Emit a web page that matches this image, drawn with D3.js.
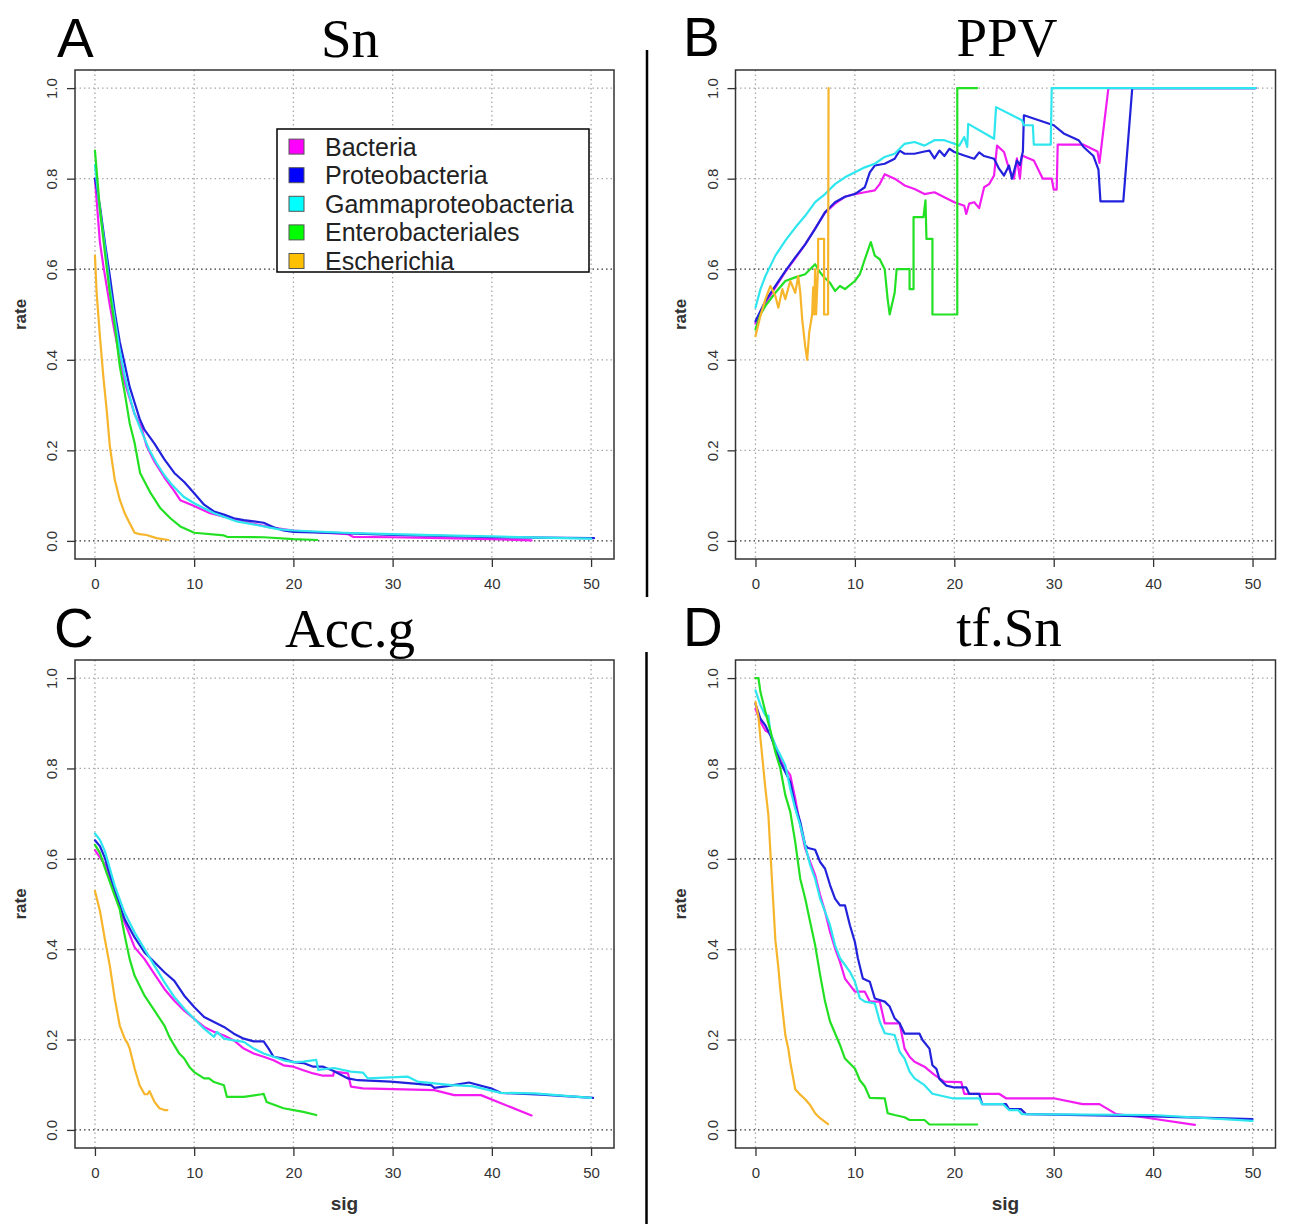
<!DOCTYPE html>
<html><head><meta charset="utf-8">
<script src="https://cdn.jsdelivr.net/npm/d3@7"></script>
<style>body{margin:0;background:#fff}</style>
</head><body><svg id="chart" width="1295" height="1224"></svg>
<script>
// ---------------- DATA ----------------
const seriesNames = ["Bacteria","Proteobacteria","Gammaproteobacteria","Enterobacteriales","Escherichia"];
const sigTicks = [0,10,20,30,40,50];
const rateTicks = [0,0.2,0.4,0.6,0.8,1.0];
const rateTickLabels = ["0.0","0.2","0.4","0.6","0.8","1.0"];
const panelTitles = ["Sn","PPV","Acc.g","tf.Sn"];
const panelLetters = ["A","B","C","D"];

// Panel A: Sn
const snBacteria = [[0,0.80],[0.5,0.66],[0.85,0.607],[1.5,0.52],[2,0.46],[3,0.35],[4,0.28],[4.7,0.25],[5.2,0.21],[6,0.175],[7,0.14],[8,0.11],[8.6,0.09],[10,0.077],[11.6,0.061],[13.6,0.05],[15.5,0.04],[17.7,0.03],[20,0.023],[23,0.018],[25.5,0.015],[26,0.009],[30,0.008],[35,0.006],[40,0.004],[44,0.001]];
const snProteo = [[0,0.80],[0.5,0.74],[1,0.66],[1.5,0.585],[2,0.505],[2.5,0.44],[3,0.39],[3.5,0.34],[4,0.305],[4.5,0.27],[5,0.245],[6,0.215],[7,0.18],[8,0.15],[9,0.13],[10,0.105],[11,0.08],[12,0.065],[13,0.058],[14,0.05],[15,0.046],[16,0.043],[17,0.04],[18,0.03],[19,0.023],[20,0.02],[25,0.017],[30,0.013],[35,0.011],[40,0.008],[45,0.007],[50,0.006],[50.3,0.006]];
const snGamma = [[0,0.83],[0.5,0.73],[1,0.65],[1.5,0.56],[2,0.49],[2.5,0.42],[3,0.365],[3.4,0.327],[4,0.28],[4.9,0.231],[5.5,0.2],[6.2,0.172],[7,0.145],[7.6,0.128],[8.9,0.098],[10,0.083],[12,0.061],[14.3,0.043],[16.3,0.035],[18.4,0.026],[20,0.023],[25,0.018],[30,0.015],[35,0.012],[40,0.01],[45,0.007],[50,0.005]];
const snEntero = [[0,0.862],[0.5,0.733],[1,0.637],[1.5,0.548],[2,0.475],[2.5,0.386],[3,0.327],[3.5,0.26],[4,0.216],[4.55,0.15],[5.6,0.106],[6.6,0.072],[7.6,0.05],[8.6,0.032],[10,0.018],[13,0.012],[13.3,0.009],[17,0.008],[20,0.004],[22.4,0.002]];
const snEscher = [[0,0.63],[0.17,0.548],[0.5,0.452],[0.84,0.364],[1.18,0.29],[1.5,0.209],[2,0.135],[2.5,0.091],[3,0.061],[3.5,0.039],[4,0.018],[4.5,0.015],[5.2,0.013],[6.2,0.006],[7.4,0.002]];

// Panel B: PPV
const ppvBacteria = [[0,0.48],[0.5,0.505],[1,0.525],[2,0.56],[3,0.594],[4,0.624],[5,0.655],[6,0.69],[7,0.725],[8,0.745],[9,0.76],[10,0.766],[11,0.77],[12,0.774],[12.5,0.788],[13,0.81],[13.5,0.805],[14,0.80],[15,0.785],[16,0.777],[17,0.766],[18,0.77],[19,0.759],[20,0.748],[21,0.74],[21.2,0.722],[21.5,0.745],[22,0.748],[22.5,0.735],[23,0.781],[23.5,0.788],[24,0.807],[24.3,0.873],[25,0.859],[25.5,0.822],[26,0.80],[26.3,0.845],[26.6,0.80],[26.8,0.851],[28,0.84],[28.9,0.80],[29.8,0.80],[30,0.776],[30.3,0.776],[30.4,0.875],[33,0.875],[34.4,0.86],[34.6,0.835],[35.5,1.0],[50.3,1.0]];
const ppvProteo = [[0,0.485],[1,0.53],[2,0.563],[3,0.596],[4,0.626],[5,0.655],[6,0.689],[7,0.726],[7.5,0.737],[8,0.748],[9,0.76],[10,0.766],[11,0.781],[11.5,0.814],[12,0.829],[13,0.833],[14,0.844],[14.5,0.862],[15,0.855],[16,0.855],[17,0.86],[17.5,0.862],[18,0.845],[18.5,0.862],[19,0.85],[19.5,0.866],[20,0.859],[21,0.851],[22,0.844],[22.5,0.858],[23,0.85],[24,0.844],[24.5,0.822],[25,0.807],[25.5,0.829],[25.8,0.80],[26.3,0.84],[26.6,0.83],[26.9,0.86],[27,0.94],[30,0.918],[31,0.90],[32.5,0.885],[33,0.87],[34,0.85],[34.5,0.82],[34.7,0.75],[37,0.75],[37.9,1.0],[50.3,1.0]];
const ppvGamma = [[0,0.515],[0.5,0.556],[1,0.585],[2,0.63],[3,0.663],[4,0.692],[5,0.718],[6,0.748],[7,0.766],[8,0.788],[9,0.803],[10,0.814],[11,0.825],[12,0.833],[13,0.848],[14,0.855],[15,0.877],[16,0.881],[17,0.873],[18,0.885],[19,0.885],[20,0.877],[20.5,0.873],[21,0.892],[21.3,0.87],[21.4,0.921],[24,0.888],[24.2,0.958],[26.8,0.929],[27,0.918],[27.9,0.918],[28,0.875],[29.7,0.875],[29.8,1.0],[50.3,1.0]];
const ppvEntero = [[0,0.467],[0.5,0.50],[1,0.519],[2,0.548],[3,0.574],[4,0.582],[5,0.589],[6,0.611],[6.5,0.593],[7,0.58],[7.5,0.57],[8,0.552],[8.5,0.563],[9,0.556],[10,0.574],[10.5,0.589],[11,0.622],[11.6,0.66],[12,0.63],[12.5,0.622],[13,0.60],[13.3,0.533],[13.5,0.50],[14,0.548],[14.2,0.60],[15.5,0.60],[15.5,0.556],[15.9,0.556],[15.9,0.715],[16.9,0.715],[17.1,0.752],[17.2,0.667],[17.8,0.667],[17.8,0.50],[20.3,0.50],[20.3,1.0],[22.3,1.0]];
const ppvEscher = [[0,0.452],[0.5,0.497],[1,0.534],[1.5,0.563],[2,0.541],[2.3,0.515],[2.7,0.556],[3,0.534],[3.5,0.574],[4,0.548],[4.3,0.585],[4.5,0.55],[4.7,0.489],[5,0.43],[5.2,0.40],[5.4,0.46],[5.7,0.50],[5.8,0.56],[5.9,0.50],[6,0.6],[6.1,0.50],[6.3,0.607],[6.3,0.667],[6.9,0.667],[6.9,0.50],[7.3,0.50],[7.35,1.0]];

// Panel C: Acc.g
const accBacteria = [[0,0.619],[1,0.587],[2,0.525],[3,0.459],[4,0.404],[5,0.378],[6,0.345],[7,0.312],[8,0.286],[9,0.264],[10,0.246],[11,0.228],[12,0.217],[13,0.209],[14,0.198],[15,0.18],[16,0.169],[17,0.162],[18,0.154],[19,0.143],[20,0.14],[21,0.132],[22,0.125],[23,0.12],[24,0.12],[24.1,0.129],[25.5,0.125],[25.8,0.096],[27,0.092],[34.2,0.088],[36.2,0.077],[38.9,0.077],[44,0.032]];
const accProteo = [[0,0.641],[0.5,0.628],[1,0.602],[2,0.529],[3,0.466],[4,0.426],[5,0.393],[6,0.371],[7,0.349],[8,0.33],[9,0.297],[10,0.272],[11,0.25],[12,0.239],[13,0.228],[14,0.213],[15,0.202],[16,0.196],[17,0.196],[17.5,0.18],[18,0.162],[19,0.158],[20,0.15],[21,0.148],[22,0.14],[23,0.14],[24,0.131],[25.5,0.114],[26.5,0.11],[29.8,0.107],[31.9,0.103],[33.9,0.099],[34.2,0.093],[35.5,0.097],[37.7,0.105],[39.9,0.092],[40.9,0.082],[45,0.078],[50.2,0.071]];
const accGamma = [[0,0.656],[0.5,0.642],[1,0.617],[2,0.54],[3,0.48],[4,0.437],[5,0.40],[6,0.363],[7,0.327],[8,0.294],[9,0.268],[10,0.246],[11,0.224],[12,0.206],[12.3,0.217],[13,0.202],[14,0.198],[15,0.195],[16,0.18],[17,0.169],[18,0.162],[19,0.154],[20,0.15],[21,0.151],[22.3,0.155],[22.5,0.133],[24.1,0.137],[25.8,0.129],[27,0.127],[27.5,0.114],[31.5,0.118],[32.5,0.107],[35.9,0.099],[38,0.097],[40.9,0.082],[44.3,0.081],[50,0.071]];
const accEntero = [[0,0.631],[0.5,0.613],[1,0.58],[2,0.518],[2.5,0.488],[3,0.43],[3.5,0.378],[4,0.341],[5,0.297],[6,0.264],[7,0.231],[7.5,0.206],[8,0.187],[8.5,0.169],[9,0.158],[9.5,0.14],[10,0.128],[11,0.114],[11.5,0.114],[12,0.106],[13,0.099],[13.3,0.073],[15,0.073],[16.8,0.079],[17,0.08],[17.3,0.062],[19,0.048],[21,0.04],[22.3,0.033]];
const accEscher = [[0,0.529],[0.5,0.485],[1,0.422],[1.5,0.363],[2,0.29],[2.5,0.231],[3,0.202],[3.3,0.191],[3.5,0.18],[4,0.136],[4.5,0.099],[5,0.079],[5.3,0.079],[5.5,0.086],[6,0.062],[6.5,0.048],[7,0.044],[7.3,0.044]];

// Panel D: tf.Sn
const tfBacteria = [[0,0.932],[0.5,0.903],[1,0.884],[1.5,0.877],[2,0.851],[2.5,0.822],[3,0.80],[3.5,0.785],[4,0.733],[4.5,0.674],[5,0.623],[5.5,0.593],[6,0.564],[6.5,0.52],[7,0.483],[7.5,0.438],[8,0.402],[8.5,0.372],[9,0.335],[10,0.306],[11,0.306],[11.5,0.284],[12.5,0.284],[13,0.236],[14.5,0.236],[15,0.18],[15.5,0.162],[16,0.151],[17,0.14],[18,0.122],[19,0.107],[20.7,0.106],[21,0.08],[24.5,0.08],[25.2,0.07],[30,0.07],[32.9,0.057],[34.6,0.057],[36.3,0.035],[39,0.028],[44.2,0.011]];
const tfProteo = [[0,0.943],[0.5,0.91],[1,0.895],[1.5,0.873],[2,0.844],[2.5,0.814],[3,0.792],[3.5,0.77],[4,0.718],[4.5,0.682],[5,0.63],[5.3,0.624],[6,0.62],[6.5,0.593],[7,0.578],[7.5,0.542],[8,0.512],[8.5,0.497],[9,0.497],[9.5,0.453],[10,0.416],[10.3,0.38],[10.8,0.335],[11.5,0.328],[12,0.291],[13,0.284],[13.5,0.273],[14,0.247],[14.5,0.236],[15,0.213],[16.5,0.213],[16.8,0.199],[17.5,0.18],[17.8,0.143],[18.2,0.135],[18.5,0.113],[19.2,0.098],[20,0.094],[21.2,0.094],[21.5,0.08],[22.5,0.08],[22.8,0.057],[25.2,0.057],[25.5,0.046],[26.7,0.046],[27.2,0.035],[40,0.03],[50,0.024]];
const tfGamma = [[0,0.973],[0.5,0.94],[1,0.917],[1.3,0.917],[1.5,0.88],[2,0.851],[2.5,0.829],[3,0.807],[3.5,0.755],[4,0.711],[4.5,0.674],[5,0.63],[5.5,0.586],[6,0.556],[6.5,0.512],[7,0.483],[7.5,0.453],[8,0.409],[8.5,0.38],[9,0.365],[9.5,0.35],[10,0.328],[10.5,0.291],[11,0.284],[12,0.28],[12.5,0.24],[13,0.214],[14,0.21],[14.5,0.173],[15,0.158],[15.5,0.129],[16,0.114],[17,0.099],[17.8,0.08],[19.8,0.07],[22.5,0.07],[22.8,0.057],[24.9,0.057],[25.5,0.044],[26.4,0.044],[26.8,0.035],[40,0.033],[50,0.02]];
const tfEntero = [[0,1.0],[0.3,1.0],[0.5,0.969],[1,0.925],[1.5,0.884],[2,0.836],[2.5,0.80],[3,0.741],[3.5,0.704],[4,0.637],[4.5,0.556],[5,0.512],[5.5,0.46],[6,0.409],[6.5,0.343],[7,0.284],[7.5,0.24],[8,0.214],[8.5,0.188],[9,0.158],[10,0.136],[10.5,0.11],[11,0.096],[11.5,0.071],[13,0.07],[13.3,0.037],[14,0.033],[15,0.028],[15.5,0.022],[17,0.022],[17.5,0.012],[22.3,0.012]];
const tfEscher = [[0,0.947],[0.3,0.914],[0.5,0.866],[1,0.755],[1.3,0.696],[1.5,0.615],[2,0.42],[2.3,0.36],[2.5,0.31],[3,0.21],[3.3,0.18],[3.5,0.15],[4,0.09],[4.5,0.078],[5,0.068],[5.5,0.055],[6,0.037],[6.5,0.026],[7.3,0.013]];

// ---------------- STYLE / LAYOUT ----------------
const lineColors = ["#f21cf2","#2222dd","#2ee6ee","#22e022","#f7b52c"];
const legendColors = ["#ff00ff","#0000ff","#00ffff","#00ff00","#ffc000"];

const panels = [
  {series:[snBacteria,snProteo,snGamma,snEntero,snEscher], box:[75,70,614,559], titleX:350, titleY:57, letterX:57, letterY:57, sig:false, legend:true},
  {series:[ppvBacteria,ppvProteo,ppvGamma,ppvEntero,ppvEscher], box:[735.5,70,1275.5,559], titleX:1007, titleY:56, letterX:683, letterY:56, sig:false, legend:false},
  {series:[accBacteria,accProteo,accGamma,accEntero,accEscher], box:[75,660,614,1148], titleX:350, titleY:647, letterX:54, letterY:647, sig:true, legend:false},
  {series:[tfBacteria,tfProteo,tfGamma,tfEntero,tfEscher], box:[735.5,660,1275.5,1148], titleX:1009, titleY:646, letterX:683, letterY:646, sig:true, legend:false}
];

const svg = d3.select("#chart");
svg.append("rect").attr("width",1295).attr("height",1224).attr("fill","#fff");

panels.forEach((p, i) => {
  const [L, T, R, B] = p.box;
  const x = d3.scaleLinear().domain([-2.01, 52.31]).range([L, R]);
  const y = d3.scaleLinear().domain([-0.04, 1.04]).range([B, T]);
  const g = svg.append("g");

  // grid
  g.selectAll(".vg").data(sigTicks).enter().append("line")
    .attr("x1", d => x(d)).attr("x2", d => x(d)).attr("y1", T).attr("y2", B)
    .attr("stroke", "#a8a8a8").attr("stroke-width", 1.3).attr("stroke-dasharray", "1.5,3");
  g.selectAll(".hg").data(rateTicks).enter().append("line")
    .attr("x1", L).attr("x2", R).attr("y1", d => y(d)).attr("y2", d => y(d))
    .attr("stroke", d => (d === 0 || d === 0.6) ? "#333" : "#a8a8a8")
    .attr("stroke-width", 1.3).attr("stroke-dasharray", "1.5,3");

  // series lines
  const line = d3.line().x(d => x(d[0])).y(d => y(d[1]));
  p.series.forEach((s, k) => {
    g.append("path").datum(s).attr("d", line)
      .attr("fill", "none").attr("stroke", lineColors[k])
      .attr("stroke-width", 2.2).attr("stroke-linejoin", "round").attr("stroke-linecap", "round");
  });

  // box
  g.append("rect").attr("x", L).attr("y", T).attr("width", R - L).attr("height", B - T)
    .attr("fill", "none").attr("stroke", "#333").attr("stroke-width", 1.5);

  // x axis
  const xa = g.append("g").attr("transform", `translate(0,${B})`)
    .call(d3.axisBottom(x).tickValues(sigTicks).tickSize(8).tickFormat(d3.format("d")));
  xa.select(".domain").remove();
  xa.selectAll("line").attr("stroke", "#333").attr("stroke-width", 1.3);
  xa.selectAll("text").attr("y", 19).attr("font-family", "Liberation Sans, Arial, sans-serif")
    .attr("font-size", 15).attr("fill", "#333");

  // y axis
  const ya = g.append("g").attr("transform", `translate(${L},0)`)
    .call(d3.axisLeft(y).tickValues(rateTicks).tickSize(8).tickFormat((d, j) => rateTickLabels[j]));
  ya.select(".domain").remove();
  ya.selectAll("line").attr("stroke", "#333").attr("stroke-width", 1.3);
  ya.selectAll("text").attr("transform", "rotate(-90)").attr("x", 0).attr("y", -18).attr("dy", 0)
    .attr("text-anchor", "middle").attr("font-family", "Liberation Sans, Arial, sans-serif")
    .attr("font-size", 15).attr("fill", "#333");

  // axis titles
  g.append("text").attr("transform", `translate(${L - 49.5},${(T + B) / 2}) rotate(-90)`)
    .attr("text-anchor", "middle").attr("font-family", "Liberation Sans, Arial, sans-serif")
    .attr("font-weight", "bold").attr("font-size", 17).attr("fill", "#333").text("rate");
  if (p.sig) {
    g.append("text").attr("x", (L + R) / 2).attr("y", B + 62)
      .attr("text-anchor", "middle").attr("font-family", "Liberation Sans, Arial, sans-serif")
      .attr("font-weight", "bold").attr("font-size", 19).attr("fill", "#333").text("sig");
  }

  // title and letter
  svg.append("text").attr("x", p.titleX).attr("y", p.titleY).attr("text-anchor", "middle")
    .attr("font-family", "Liberation Serif, Times New Roman, serif").attr("font-size", 55)
    .attr("fill", "#000").text(panelTitles[i]);
  svg.append("text").attr("x", p.letterX).attr("y", p.letterY)
    .attr("font-family", "Liberation Sans, Arial, sans-serif").attr("font-size", 55)
    .attr("fill", "#000").text(panelLetters[i]);

  // legend
  if (p.legend) {
    const lg = svg.append("g");
    lg.append("rect").attr("x", 277).attr("y", 129).attr("width", 312).attr("height", 143)
      .attr("fill", "#fff").attr("stroke", "#000").attr("stroke-width", 1.5);
    seriesNames.forEach((n, k) => {
      const cy = 146.6 + k * 28.6;
      lg.append("rect").attr("x", 289).attr("y", cy - 7.5).attr("width", 15).attr("height", 15)
        .attr("fill", legendColors[k]).attr("stroke", "#555").attr("stroke-width", 1);
      lg.append("text").attr("x", 325).attr("y", cy + 9)
        .attr("font-family", "Liberation Sans, Arial, sans-serif").attr("font-size", 25)
        .attr("fill", "#222").text(n);
    });
  }
});

// separators
svg.append("line").attr("x1", 647).attr("x2", 647).attr("y1", 50).attr("y2", 597)
  .attr("stroke", "#000").attr("stroke-width", 2.5);
svg.append("line").attr("x1", 646.5).attr("x2", 646.5).attr("y1", 652).attr("y2", 1224)
  .attr("stroke", "#000").attr("stroke-width", 2.5);
</script>
</body></html>
